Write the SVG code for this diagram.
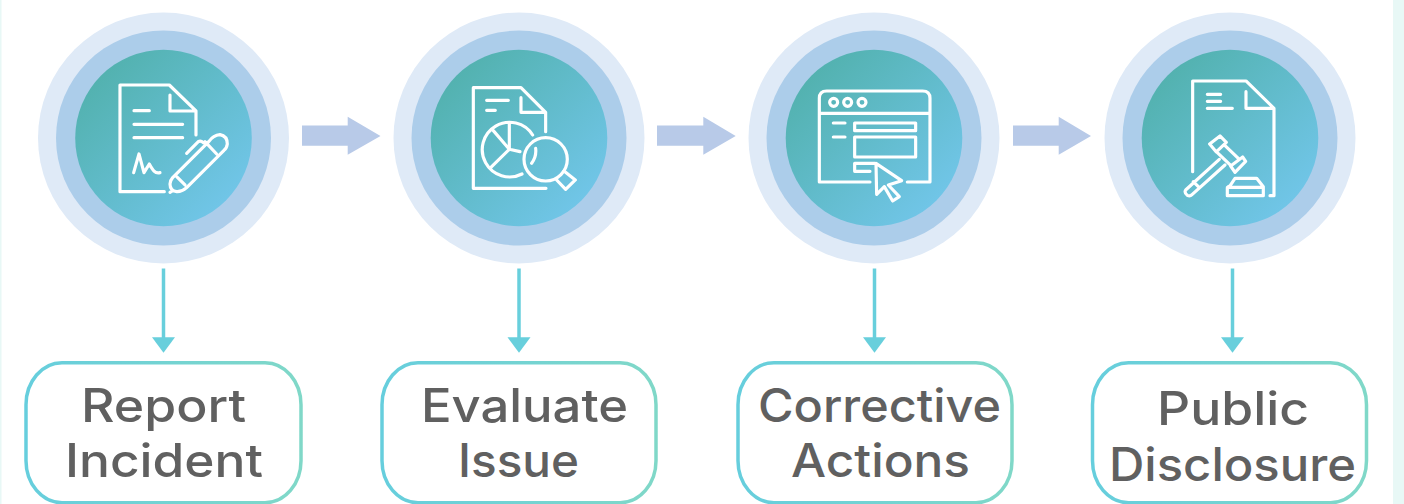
<svg xmlns="http://www.w3.org/2000/svg" width="1404" height="504" viewBox="0 0 1404 504">
<style>
.o{fill:#dfeaf7}.m{fill:#accdea}.i{fill:url(#disc)}
.ic{fill:none;stroke:#fff;stroke-width:9.5;stroke-linecap:round;stroke-linejoin:round}
.box{fill:#fff;stroke:url(#edge);stroke-width:3.5}
.t{font-family:"Inter","Open Sans","Liberation Sans",sans-serif;font-size:46px;font-weight:500;fill:#606060}
.fl{fill:#b8cae8}.dn{fill:none;stroke:#68cfdc;stroke-width:3.5}.hd{fill:#68cfdc}
</style>
<defs>
<linearGradient id="disc" x1=".15" y1=".15" x2=".85" y2=".85"><stop offset="0" stop-color="#53b2b0"/><stop offset="1" stop-color="#70c5e7"/></linearGradient>
<linearGradient id="edge" x1="0" y1="0" x2="1" y2="0"><stop offset="0" stop-color="#66cedd"/><stop offset="1" stop-color="#80d8c8"/></linearGradient>
</defs>
<rect width="1404" height="504" fill="#fff"/>
<rect width="1.5" height="504" fill="#e8f8f6"/>
<rect x="1393" width="11" height="504" fill="#e8f8f6"/>
<g id="connectors">
<path class="fl" d="M302,125.5H347.7V116.7L380.5,136L347.7,154.8V145.7H302Z"/>
<path class="fl" d="M657,125.5H703.3V116.7L735.7,136L703.3,154.8V145.7H657Z"/>
<path class="fl" d="M1013,125.5H1058.7V116.7L1091,136L1058.7,154.8V145.7H1013Z"/>
<path class="dn" d="M163.5,268.5V338"/><path class="hd" d="M152,337.3H175L163.5,352.7Z"/>
<path class="dn" d="M519,268.5V338"/><path class="hd" d="M507.5,337.3H530.5L519,352.7Z"/>
<path class="dn" d="M874.5,268.5V338"/><path class="hd" d="M863,337.3H886L874.5,352.7Z"/>
<path class="dn" d="M1232.5,268.5V338"/><path class="hd" d="M1221,337.3H1244L1232.5,352.7Z"/>
</g>
<g id="node-report-circle">
<circle class="o" cx="163.5" cy="138" r="125.5"/><circle class="m" cx="163.5" cy="138" r="107.5"/><circle class="i" cx="163.5" cy="138" r="88.3"/>
<g transform="translate(30 0) scale(.3333)"><path class="ic" d="M403,575H270V255H418L498,333V405M420,285V333H498M312,332H358M312,373H458M312,413H458M311,518L327,462L342,518L358,492C368,510 375,522 390,518M470,460L505,425Q512,420 520,428M428,533L537,424Q550,406 570,404Q592,408 592,432Q590,445 582,451L470,563Q455,576 440,575Q420,572 420,552Q420,542 428,533ZM440,530L465,555M525,425L560,462M428,572L420,577"/></g>
</g>
<g id="node-evaluate-circle">
<circle class="o" cx="519" cy="138" r="125.5"/><circle class="m" cx="519" cy="138" r="107.5"/><circle class="i" cx="519" cy="138" r="88.3"/>
<g transform="translate(390 0) scale(.3333)"><path class="ic" d="M468,565H250V263H393L467,337V395M393,293V337H467M290,301H355M290,331H316M428,405A82,82 0 1 0 396,522M358,448V372M358,448L310,392M358,448L305,500M358,448L390,455M437,445Q440,470 425,490M522,513L556,540L527,568L500,540"/><circle class="ic" cx="467" cy="478" r="65"/></g>
</g>
<g id="node-corrective-circle">
<circle class="o" cx="874" cy="138" r="125.5"/><circle class="m" cx="874" cy="138" r="107.5"/><circle class="i" cx="874" cy="138" r="88.3"/>
<g transform="translate(750 0) scale(.3333)"><path class="ic" d="M360,546H208V295Q208,273 230,273H518Q540,273 540,295V546H472M208,340H540M250,369H285M250,411H285M375,490H314V514H360M378,490L455,542L415,555L448,590L428,603L403,560L380,583Z"/><circle class="ic" cx="251" cy="307" r="12"/><circle class="ic" cx="293" cy="307" r="12"/><circle class="ic" cx="336" cy="307" r="12"/><rect class="ic" x="314" y="369" width="183" height="23"/><rect class="ic" x="314" y="411" width="183" height="60"/></g>
</g>
<g id="node-public-circle">
<circle class="o" cx="1230" cy="138" r="125.5"/><circle class="m" cx="1230" cy="138" r="107.5"/><circle class="i" cx="1230" cy="138" r="88.3"/>
<g transform="translate(1100 0) scale(.3333)"><path class="ic" d="M278,515V243H438L522,325V587H510M438,275V325H522M322,283H362M322,304H362M322,325H397M329,432L360,408L379,427L349,456ZM392,498L428,471L437,484L405,517ZM372,434L415,475M352,458L393,497M358,478L257,570Q252,578 262,586Q270,590 276,584L375,495M280,545L295,560M382,587V565Q382,560 390,558L405,535H470L490,560V587ZM382,562H490"/></g>
</g>
<g id="node-report-label"><rect class="box" x="26" y="362.7" width="275" height="140" rx="36" ry="42"/>
<text class="t" x="81" y="421.7" textLength="165" lengthAdjust="spacingAndGlyphs">Report</text><text class="t" x="65" y="477.3" textLength="198" lengthAdjust="spacingAndGlyphs">Incident</text></g>
<g id="node-evaluate-label"><rect class="box" x="382" y="362.7" width="274" height="140" rx="36" ry="42"/>
<text class="t" x="421" y="421.7" textLength="207" lengthAdjust="spacingAndGlyphs">Evaluate</text><text class="t" x="458" y="477.3" textLength="121" lengthAdjust="spacingAndGlyphs">Issue</text></g>
<g id="node-corrective-label"><rect class="box" x="738" y="362.7" width="274" height="140" rx="36" ry="42"/>
<text class="t" x="758" y="421.7" textLength="243" lengthAdjust="spacingAndGlyphs">Corrective</text><text class="t" x="791" y="477.3" textLength="179" lengthAdjust="spacingAndGlyphs">Actions</text></g>
<g id="node-public-label"><rect class="box" x="1092.5" y="362.7" width="274" height="140" rx="36" ry="42"/>
<text class="t" x="1157" y="425" textLength="152" lengthAdjust="spacingAndGlyphs">Public</text><text class="t" x="1109" y="480.5" textLength="247" lengthAdjust="spacingAndGlyphs">Disclosure</text></g>
</svg>
